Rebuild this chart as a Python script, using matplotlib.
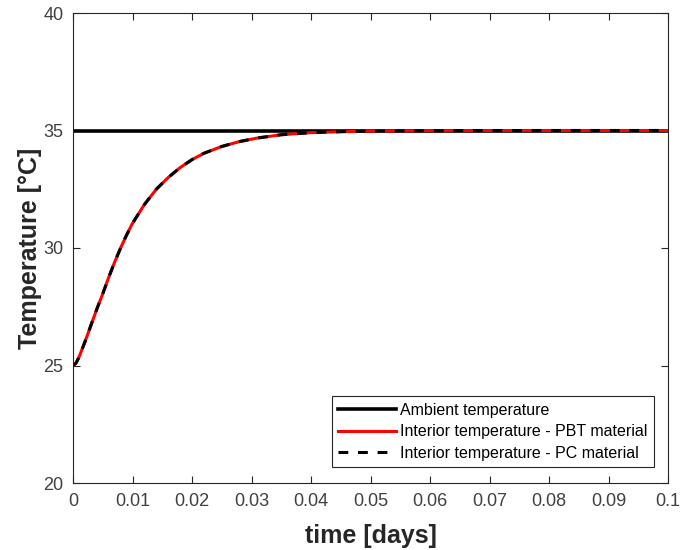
import matplotlib
matplotlib.use("Agg")
import matplotlib.pyplot as plt

plt.rcParams['font.family'] = ['Liberation Sans', 'DejaVu Sans']

time_days = [0, 0.0005, 0.001, 0.002, 0.003, 0.004, 0.005, 0.006, 0.007, 0.008,
             0.009, 0.010, 0.012, 0.014, 0.016, 0.018, 0.020, 0.022, 0.025, 0.028,
             0.031, 0.035, 0.040, 0.045, 0.050, 0.060, 0.070, 0.080, 0.090, 0.100]
temp_pbt = [25.0, 25.1, 25.35, 26.0, 26.7, 27.4, 28.05, 28.75, 29.4, 30.0,
            30.55, 31.05, 31.85, 32.5, 33.0, 33.42, 33.76, 34.03, 34.32, 34.53,
            34.68, 34.82, 34.91, 34.95, 34.975, 34.993, 34.998, 35.0, 35.0, 35.0]
temp_pc = list(temp_pbt)
ambient_time = [0, 0.1]
ambient_temp = [35, 35]

xticks = [0, 0.01, 0.02, 0.03, 0.04, 0.05, 0.06, 0.07, 0.08, 0.09, 0.1]
xticklabels = ['0', '0.01', '0.02', '0.03', '0.04', '0.05', '0.06', '0.07', '0.08', '0.09', '0.1']
yticks = [20, 25, 30, 35, 40]

fig = plt.figure(figsize=(6.81, 5.5), dpi=100)
ax = fig.add_axes([73/681, 67/550, 595/681, 470/550])

ax.plot(ambient_time, ambient_temp, color='black', lw=2.6, label='Ambient temperature')
ax.plot(time_days, temp_pbt, color='red', lw=2.2, label='Interior temperature - PBT material')
ax.plot(time_days, temp_pc, color='black', lw=2.2, ls=(0, (3.2, 3.2)), label='Interior temperature - PC material')

ax.set_xlim(0, 0.1)
ax.set_ylim(20, 40)
ax.set_xticks(xticks)
ax.set_xticklabels(xticklabels)
ax.set_yticks(yticks)

axcol = '#262626'
for s in ax.spines.values():
    s.set_color(axcol)
    s.set_linewidth(0.8)
ax.tick_params(direction='in', top=True, right=True, length=5, width=0.8,
               colors=axcol, labelsize=13, labelcolor='#404040', pad=7)

ax.set_xlabel('time [days]', fontsize=18, fontweight='bold', color='#262626', labelpad=10)
ax.set_ylabel('Temperature [°C]', fontsize=18, fontweight='bold', color='#262626', labelpad=1)

leg = ax.legend(loc='lower right', bbox_to_anchor=(0.976, 0.034), fontsize=11.5,
                frameon=True, fancybox=False, edgecolor='#262626', framealpha=1,
                handlelength=3.6, handletextpad=0.25, borderpad=0.4, labelspacing=0.4,
                borderaxespad=0)
leg.get_frame().set_linewidth(0.8)

fig.savefig('out.png', dpi=100)
